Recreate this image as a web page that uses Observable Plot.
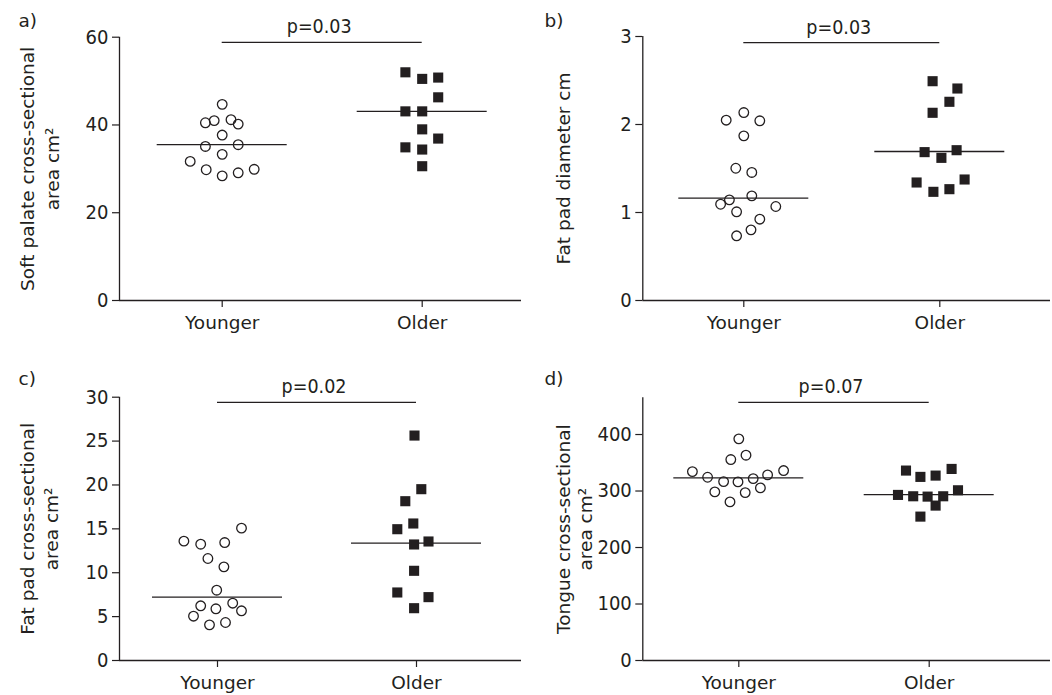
<!DOCTYPE html>
<html><head><meta charset="utf-8">
<script src="https://cdn.jsdelivr.net/npm/d3@7"></script>
<script src="https://cdn.jsdelivr.net/npm/@observablehq/plot@0.6"></script>
<style>
body{margin:0;background:#fff;}
#wrap{position:relative;width:1052px;height:695px;overflow:hidden;}
.panel{position:absolute;}
</style></head><body><div id="wrap"></div>
<script>
// ---------- data ----------
const groups = ["Younger", "Older"];
const panelLetters = ["a)", "b)", "c)", "d)"];
const pLabels = ["p=0.03", "p=0.03", "p=0.02", "p=0.07"];

// a) Soft palate cross-sectional area cm2
const yLabelA = ["Soft palate cross-sectional", "area cm²"];
const yTicksA = [0, 20, 40, 60];
const youngerA = [44.7, 40.5, 41.0, 41.2, 40.2, 37.7, 35.1, 35.5, 33.3, 31.7, 29.8, 28.4, 29.1, 29.9];
const youngerJitA = [0, -2.1, -1, 1.1, 2, 0, -2.1, 2, 0, -4, -2, 0, 2, 4];
const olderA = [52.0, 50.5, 50.8, 46.3, 43.1, 43.1, 39.0, 36.9, 34.9, 34.4, 30.6];
const olderJitA = [-2.1, 0, 2, 2, -2.1, 0, 0, 2, -2.1, 0, 0];
const mediansA = [35.5, 43.1];
const bracketA = 58.8;

// b) Fat pad diameter cm
const yLabelB = ["Fat pad diameter cm"];
const yTicksB = [0, 1, 2, 3];
const youngerB = [2.136, 2.049, 2.042, 1.871, 1.503, 1.455, 1.144, 1.094, 1.189, 1.068, 1.008, 0.924, 0.803, 0.735];
const youngerJitB = [0, -2.2, 2, 0, -1, 1, -1.8, -2.9, 1, 4, -0.9, 2, 0.9, -0.9];
const olderB = [2.492, 2.409, 2.258, 2.133, 1.686, 1.708, 1.621, 1.341, 1.375, 1.235, 1.265];
const olderJitB = [-0.9, 2.2, 1.2, -0.9, -1.9, 2.1, 0.2, -2.9, 3.1, -0.8, 1.2];
const mediansB = [1.163, 1.693];
const bracketB = 2.93;

// c) Fat pad cross-sectional area cm2
const yLabelC = ["Fat pad cross-sectional", "area cm²"];
const yTicksC = [0, 5, 10, 15, 20, 25, 30];
const youngerC = [13.6, 13.25, 13.44, 15.08, 11.62, 10.67, 8.01, 6.23, 5.89, 6.53, 5.66, 5.05, 4.06, 4.33];
const youngerJitC = [-4.2, -2.1, 0.9, 3.0, -1.2, 0.8, -0.1, -2.1, -0.2, 1.9, 3.0, -3.0, -1.0, 1.0];
const olderC = [25.63, 19.52, 18.15, 15.61, 14.96, 13.22, 13.56, 10.22, 7.75, 7.22, 5.96];
const olderJitC = [-0.25, 0.6, -1.4, -0.4, -2.4, -0.3, 1.5, -0.3, -2.4, 1.5, -0.3];
const mediansC = [7.21, 13.37];
const bracketC = 29.4;

// d) Tongue cross-sectional area cm2
const yLabelD = ["Tongue cross-sectional", "area cm²"];
const yTicksD = [0, 100, 200, 300, 400];
const youngerD = [392.3, 363.4, 355.7, 334.4, 336.2, 324.4, 322.0, 328.5, 316.7, 316.1, 298.4, 297.2, 305.5, 280.7];
const youngerJitD = [0, 0.9, -1.0, -5.8, 5.6, -3.9, 1.8, 3.6, -1.9, -0.1, -3.0, 0.8, 2.7, -1.1];
const olderD = [336.2, 325.0, 327.3, 339.1, 293.1, 290.7, 290.1, 290.7, 301.3, 274.2, 254.7];
const olderJitD = [-2.9, -1.1, 0.8, 2.8, -3.9, -2.0, -0.2, 1.75, 3.6, 0.8, -1.1];
const mediansD = [323.2, 293.6];
const bracketD = 457;

// ---------- layout (pixels) ----------
const ink = "#231f20";
const font = "'DejaVu Sans', sans-serif";
const numFont = "'DejaVu Sans Condensed', 'DejaVu Sans', sans-serif";
const fontSize = 18.5;

const panels = [
  {letter: panelLetters[0], p: pLabels[0], yLabel: yLabelA, ticks: yTicksA, ymax: 60,
   yv: youngerA, yj: youngerJitA, ov: olderA, oj: olderJitA, med: mediansA, br: bracketA,
   left: 0, top: 0, w: 526, h: 347, ml: 119, mr: 5, mt: 36.7, mb: 47, xY: 221.7, xO: 421.7,
   labelX: [27.5, 52.5], letterY: 21},
  {letter: panelLetters[1], p: pLabels[1], yLabel: yLabelB, ticks: yTicksB, ymax: 3,
   yv: youngerB, yj: youngerJitB, ov: olderB, oj: olderJitB, med: mediansB, br: bracketB,
   left: 526, top: 0, w: 526, h: 347, ml: 116.3, mr: 2, mt: 36, mb: 47, xY: 217.3, xO: 413.3,
   labelX: [37.5], letterY: 21},
  {letter: panelLetters[2], p: pLabels[2], yLabel: yLabelC, ticks: yTicksC, ymax: 30,
   yv: youngerC, yj: youngerJitC, ov: olderC, oj: olderJitC, med: mediansC, br: bracketC,
   left: 0, top: 347, w: 526, h: 348, ml: 119, mr: 5, mt: 49.7, mb: 35, xY: 217, xO: 416,
   labelX: [27.5, 51.5], letterY: 32},
  {letter: panelLetters[3], p: pLabels[3], yLabel: yLabelD, ticks: yTicksD, ymax: 465,
   yv: youngerD, yj: youngerJitD, ov: olderD, oj: olderJitD, med: mediansD, br: bracketD,
   left: 526, top: 347, w: 526, h: 348, ml: 116.3, mr: 2, mt: 50.3, mb: 35, xY: 212.3, xO: 402.7,
   labelX: [37.5, 60], letterY: 32}
];

const wrap = document.getElementById("wrap");

for (const c of panels) {
  const sp = c.xO - c.xY;              // px between group centres
  const slot = 8 / sp;                 // one jitter slot in x units
  const half = 65 / sp;                // half-width of median line
  const x0 = 1 - (c.xY - c.ml) / sp;
  const x1 = 2 + (c.w - c.mr - c.xO) / sp;
  const young = c.yv.map((v, i) => ({v, x: 1 + c.yj[i] * slot}));
  const old = c.ov.map((v, i) => ({v, x: 2 + c.oj[i] * slot}));
  const meds = c.med.map((v, i) => ({v, g: i + 1}));

  const marks = [
    Plot.ruleX([x0], {stroke: ink, strokeWidth: 1.3}),
    Plot.ruleY([0], {stroke: ink, strokeWidth: 1.3}),
    Plot.axisY({ticks: c.ticks, tickFormat: d => String(d), tickSize: 7, tickPadding: 4, label: null,
      stroke: ink, fill: ink, strokeWidth: 1.2, fontFamily: numFont, fontSize: 20}),
    Plot.axisX({ticks: [1, 2], tickFormat: d => groups[d - 1], tickSize: 7, tickPadding: 8, label: null,
      stroke: ink, fill: ink, strokeWidth: 1.2}),
    Plot.ruleY(meds, {y: "v", x1: d => d.g - half, x2: d => d.g + half, stroke: ink, strokeWidth: 1.3}),
    Plot.ruleY([c.br], {x1: 1, x2: 2, stroke: ink, strokeWidth: 1.3}),
    Plot.text([c.p], {x: 1.5, y: c.br, text: d => d, dx: -3, dy: -9, lineAnchor: "bottom", fill: ink,
      fontFamily: numFont, fontSize: 19.5}),
    Plot.dot(young, {x: "x", y: "v", r: 4.8, stroke: ink, strokeWidth: 1.3, fill: "none"}),
    Plot.dot(old, {x: "x", y: "v", r: 5.7, symbol: "square", fill: ink, stroke: "none"}),
    ...c.yLabel.map((t, i) => Plot.text([t], {text: d => d, frameAnchor: "left", dx: c.labelX[i] - c.ml, rotate: -90, textAnchor: "middle", lineAnchor: "middle", fill: ink})),
    Plot.text([c.letter], {text: d => d, frameAnchor: "top-left", dx: 18 - c.ml, dy: c.letterY - c.mt, textAnchor: "start", lineAnchor: "middle", fill: ink})
  ];

  const svg = Plot.plot({
    width: c.w, height: c.h,
    marginLeft: c.ml, marginRight: c.mr, marginTop: c.mt, marginBottom: c.mb,
    x: {type: "linear", domain: [x0, x1], axis: null},
    y: {type: "linear", domain: [0, c.ymax], axis: null},
    style: {fontFamily: font, fontSize: fontSize + "px", color: ink, background: "transparent", overflow: "visible"},
    marks
  });
  const div = document.createElement("div");
  div.className = "panel";
  div.style.left = c.left + "px";
  div.style.top = c.top + "px";
  div.appendChild(svg);
  wrap.appendChild(div);
}
</script>
</body></html>
